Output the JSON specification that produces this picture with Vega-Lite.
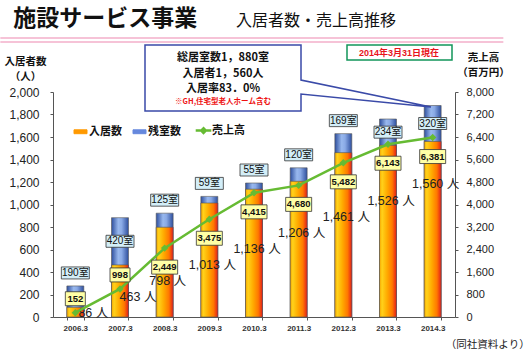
{
  "$schema": "https://vega.github.io/schema/vega-lite/v6.json",
  "width": 402,
  "height": 225,
  "autosize": {"type": "none"},
  "padding": {"left": 53, "top": 92, "right": 75, "bottom": 34},
  "background": "#ffffff",
  "config": {
    "view": {"stroke": null},
    "font": "Liberation Sans, Noto Sans CJK JP",
    "axis": {"grid": false},
    "axisLeft": {"labelFontSize": 12, "labelColor": "#222", "tickSize": 3, "labelPadding": 11, "domainColor": "#555", "tickColor": "#555",
      "titleAngle": 0, "titleX": -28, "titleY": -36, "titleAlign": "center", "titleBaseline": "top", "titleFontSize": 10.5, "titleFontWeight": "bold", "titleColor": "#111", "titleFont": "Noto Sans CJK JP", "titleLineHeight": 15},
    "axisRight": {"labelFontSize": 11, "labelColor": "#222", "tickSize": 3, "labelPadding": 8, "domainColor": "#555", "tickColor": "#555",
      "titleAngle": 0, "titleX": 28, "titleY": -40, "titleAlign": "center", "titleBaseline": "top", "titleFontSize": 10.5, "titleFontWeight": "bold", "titleColor": "#111", "titleFont": "Noto Sans CJK JP", "titleLineHeight": 15}
  },
  "data": {"values": [
    {"year": "2006.3", "occ": 86, "rem": 190, "sales": 152},
    {"year": "2007.3", "occ": 463, "rem": 420, "sales": 998},
    {"year": "2008.3", "occ": 798, "rem": 125, "sales": 2449},
    {"year": "2009.3", "occ": 1013, "rem": 59, "sales": 3475},
    {"year": "2010.3", "occ": 1136, "rem": 55, "sales": 4415},
    {"year": "2011.3", "occ": 1206, "rem": 120, "sales": 4680},
    {"year": "2012.3", "occ": 1461, "rem": 169, "sales": 5482},
    {"year": "2013.3", "occ": 1526, "rem": 234, "sales": 6143},
    {"year": "2014.3", "occ": 1560, "rem": 320, "sales": 6381}
  ]},
  "transform": [
    {"calculate": "datum.occ + datum.rem", "as": "total"},
    {"calculate": "datum.occ + datum.rem / 2", "as": "mid"},
    {"calculate": "34 + 143 * (toNumber(slice(datum.year, 0, 4)) - 2006)", "as": "ly"},
    {"calculate": "datum.rem + '室'", "as": "roomLabel"},
    {"calculate": "format(datum.occ, ',') + ' 人'", "as": "occLabel"},
    {"calculate": "format(datum.sales, ',')", "as": "salesLabel"}
  ],
  "encoding": {
    "x": {
      "field": "year", "type": "ordinal",
      "scale": {"paddingInner": 0.62, "paddingOuter": 0.31},
      "axis": {"title": null, "labelFontSize": 8, "labelFontWeight": "bold", "labelColor": "#333", "labelAngle": 0, "tickBand": "extent", "tickSize": 3, "labelPadding": 4, "domainColor": "#555", "tickColor": "#555"}
    }
  },
  "layer": [
    {
      "layer": [
        {
          "mark": {"type": "bar", "stroke": "#555", "strokeWidth": 0.6,
            "color": {"gradient": "linear", "x1": 0, "x2": 1, "y1": 0, "y2": 0, "stops": [
              {"offset": 0, "color": "#2e4f9e"}, {"offset": 0.4, "color": "#98b8ee"}, {"offset": 0.6, "color": "#8aaae6"}, {"offset": 1, "color": "#2e4f9e"}]}},
          "encoding": {"y": {"field": "total", "type": "quantitative", "scale": {"domain": [0, 2000], "nice": false},
            "axis": {"orient": "left", "values": [0, 200, 400, 600, 800, 1000, 1200, 1400, 1600, 1800, 2000], "format": ",d", "title": ["入居者数", "（人）"]}}}
        },
        {
          "mark": {"type": "bar", "stroke": "#555", "strokeWidth": 0.6,
            "color": {"gradient": "linear", "x1": 0, "x2": 1, "y1": 0, "y2": 0, "stops": [
              {"offset": 0, "color": "#f5a400"}, {"offset": 0.15, "color": "#ffd21a"}, {"offset": 0.45, "color": "#ffaa00"}, {"offset": 0.75, "color": "#ff7800"}, {"offset": 1, "color": "#e21e1c"}]}},
          "encoding": {"y": {"field": "occ", "type": "quantitative", "axis": {"orient": "left", "values": [0, 200, 400, 600, 800, 1000, 1200, 1400, 1600, 1800, 2000], "format": ",d", "title": ["入居者数", "（人）"]}}}
        },
        {
          "transform": [{"filter": "indexof(['2007.3','2013.3','2014.3'], datum.year) < 0"}],
          "mark": {"type": "point", "shape": "M-14,-19H14V-7H-14Z", "size": 4, "filled": true, "fill": "#d3eef8", "stroke": "#333", "strokeWidth": 0.8, "opacity": 1},
          "encoding": {"y": {"field": "total", "type": "quantitative", "axis": {"orient": "left", "values": [0, 200, 400, 600, 800, 1000, 1200, 1400, 1600, 1800, 2000], "format": ",d", "title": ["入居者数", "（人）"]}}}
        },
        {
          "transform": [{"filter": "indexof(['2007.3','2013.3','2014.3'], datum.year) < 0"}],
          "mark": {"type": "text", "dy": -13, "fontSize": 10, "color": "#111", "baseline": "middle"},
          "encoding": {"y": {"field": "total", "type": "quantitative", "axis": {"orient": "left", "values": [0, 200, 400, 600, 800, 1000, 1200, 1400, 1600, 1800, 2000], "format": ",d", "title": ["入居者数", "（人）"]}}, "text": {"field": "roomLabel"}}
        },
        {
          "transform": [{"filter": "indexof(['2007.3','2013.3','2014.3'], datum.year) >= 0"}],
          "mark": {"type": "point", "shape": "M-14,-6H14V6H-14Z", "size": 4, "filled": true, "fill": "#d3eef8", "stroke": "#333", "strokeWidth": 0.8, "opacity": 1},
          "encoding": {"y": {"field": "mid", "type": "quantitative", "axis": {"orient": "left", "values": [0, 200, 400, 600, 800, 1000, 1200, 1400, 1600, 1800, 2000], "format": ",d", "title": ["入居者数", "（人）"]}}}
        },
        {
          "transform": [{"filter": "indexof(['2007.3','2013.3','2014.3'], datum.year) >= 0"}],
          "mark": {"type": "text", "fontSize": 10, "color": "#111", "baseline": "middle"},
          "encoding": {"y": {"field": "mid", "type": "quantitative", "axis": {"orient": "left", "values": [0, 200, 400, 600, 800, 1000, 1200, 1400, 1600, 1800, 2000], "format": ",d", "title": ["入居者数", "（人）"]}}, "text": {"field": "roomLabel"}}
        },
        {
          "transform": [{"filter": "datum.occ < 500"}],
          "mark": {"type": "text", "fontSize": 12.5, "color": "#222", "dx": 18, "baseline": "middle"},
          "encoding": {"y": {"field": "ly", "type": "quantitative", "axis": {"orient": "left", "values": [0, 200, 400, 600, 800, 1000, 1200, 1400, 1600, 1800, 2000], "format": ",d", "title": ["入居者数", "（人）"]}}, "text": {"field": "occLabel"}}
        },
        {
          "transform": [{"filter": "datum.occ >= 500"}],
          "mark": {"type": "text", "fontSize": 12.5, "color": "#222", "dx": 3, "baseline": "middle"},
          "encoding": {"y": {"field": "ly", "type": "quantitative", "axis": {"orient": "left", "values": [0, 200, 400, 600, 800, 1000, 1200, 1400, 1600, 1800, 2000], "format": ",d", "title": ["入居者数", "（人）"]}}, "text": {"field": "occLabel"}}
        },
        {
          "data": {"values": [{}]},
          "mark": {"type": "text", "text": "施設サービス事業", "font": "Noto Sans CJK JP", "fontSize": 23, "fontWeight": "bold", "align": "left", "baseline": "middle", "dx": -62, "color": "#111"},
          "encoding": {"x": {"datum": "2006.3", "type": "ordinal"}, "y": {"datum": 2653, "type": "quantitative", "axis": {"orient": "left", "values": [0, 200, 400, 600, 800, 1000, 1200, 1400, 1600, 1800, 2000], "format": ",d", "title": ["入居者数", "（人）"]}}}
        },
        {
          "data": {"values": [{}]},
          "mark": {"type": "text", "text": "入居者数・売上高推移", "font": "Noto Sans CJK JP", "fontSize": 16, "align": "left", "baseline": "middle", "dx": -18, "color": "#111"},
          "encoding": {"x": {"datum": "2010.3", "type": "ordinal"}, "y": {"datum": 2635, "type": "quantitative", "axis": {"orient": "left", "values": [0, 200, 400, 600, 800, 1000, 1200, 1400, 1600, 1800, 2000], "format": ",d", "title": ["入居者数", "（人）"]}}}
        },
        {
          "data": {"values": [{}]},
          "mark": {"type": "point", "shape": "M-75,-2H428M-75,2H428", "size": 4, "filled": false, "stroke": "#f6c3d7", "strokeWidth": 2, "opacity": 1},
          "encoding": {"x": {"datum": "2006.3", "type": "ordinal"}, "y": {"datum": 2462, "type": "quantitative", "axis": {"orient": "left", "values": [0, 200, 400, 600, 800, 1000, 1200, 1400, 1600, 1800, 2000], "format": ",d", "title": ["入居者数", "（人）"]}}}
        },
        {
          "data": {"values": [{}]},
          "mark": {"type": "point", "shape": "M-109,-33H47V2L177,29L47,16V33H-109Z", "size": 4, "filled": true, "fill": "#ffffff", "stroke": "#3a4aa8", "strokeWidth": 1.5, "opacity": 1},
          "encoding": {"x": {"datum": "2010.3", "type": "ordinal"}, "y": {"datum": 2124, "type": "quantitative", "axis": {"orient": "left", "values": [0, 200, 400, 600, 800, 1000, 1200, 1400, 1600, 1800, 2000], "format": ",d", "title": ["入居者数", "（人）"]}}}
        },
        {
          "data": {"values": [{}]},
          "mark": {"type": "text", "text": "総居室数1，880室", "font": "Noto Sans CJK JP", "fontSize": 11, "fontWeight": "bold", "align": "center", "baseline": "middle", "dx": -31, "color": "#111"},
          "encoding": {"x": {"datum": "2010.3", "type": "ordinal"}, "y": {"datum": 2302, "type": "quantitative", "axis": {"orient": "left", "values": [0, 200, 400, 600, 800, 1000, 1200, 1400, 1600, 1800, 2000], "format": ",d", "title": ["入居者数", "（人）"]}}}
        },
        {
          "data": {"values": [{}]},
          "mark": {"type": "text", "text": "入居者1，560人", "font": "Noto Sans CJK JP", "fontSize": 11, "fontWeight": "bold", "align": "center", "baseline": "middle", "dx": -31, "color": "#111"},
          "encoding": {"x": {"datum": "2010.3", "type": "ordinal"}, "y": {"datum": 2164, "type": "quantitative", "axis": {"orient": "left", "values": [0, 200, 400, 600, 800, 1000, 1200, 1400, 1600, 1800, 2000], "format": ",d", "title": ["入居者数", "（人）"]}}}
        },
        {
          "data": {"values": [{}]},
          "mark": {"type": "text", "text": "入居率83．0%", "font": "Noto Sans CJK JP", "fontSize": 11, "fontWeight": "bold", "align": "center", "baseline": "middle", "dx": -31, "color": "#111"},
          "encoding": {"x": {"datum": "2010.3", "type": "ordinal"}, "y": {"datum": 2027, "type": "quantitative", "axis": {"orient": "left", "values": [0, 200, 400, 600, 800, 1000, 1200, 1400, 1600, 1800, 2000], "format": ",d", "title": ["入居者数", "（人）"]}}}
        },
        {
          "data": {"values": [{}]},
          "mark": {"type": "text", "text": "※GH,住宅型老人ホーム含む", "font": "Noto Sans CJK JP", "fontSize": 7.5, "fontWeight": "bold", "align": "center", "baseline": "middle", "dx": -31, "color": "#ee1111"},
          "encoding": {"x": {"datum": "2010.3", "type": "ordinal"}, "y": {"datum": 1911, "type": "quantitative", "axis": {"orient": "left", "values": [0, 200, 400, 600, 800, 1000, 1200, 1400, 1600, 1800, 2000], "format": ",d", "title": ["入居者数", "（人）"]}}}
        },
        {
          "data": {"values": [{}]},
          "mark": {"type": "point", "shape": "M-41,-7.5H64V7.5H-41Z", "size": 4, "filled": true, "fill": "#ffffff", "stroke": "#12955a", "strokeWidth": 1.5, "opacity": 1},
          "encoding": {"x": {"datum": "2013.3", "type": "ordinal"}, "y": {"datum": 2351, "type": "quantitative", "axis": {"orient": "left", "values": [0, 200, 400, 600, 800, 1000, 1200, 1400, 1600, 1800, 2000], "format": ",d", "title": ["入居者数", "（人）"]}}}
        },
        {
          "data": {"values": [{}]},
          "mark": {"type": "text", "text": "2014年3月31日現在", "fontSize": 9, "fontWeight": "bold", "align": "center", "baseline": "middle", "dx": 11, "color": "#e8141c"},
          "encoding": {"x": {"datum": "2013.3", "type": "ordinal"}, "y": {"datum": 2351, "type": "quantitative", "axis": {"orient": "left", "values": [0, 200, 400, 600, 800, 1000, 1200, 1400, 1600, 1800, 2000], "format": ",d", "title": ["入居者数", "（人）"]}}}
        },
        {
          "data": {"values": [{}]},
          "mark": {"type": "text", "text": "（同社資料より）", "font": "Noto Sans CJK JP", "fontSize": 10.5, "align": "right", "baseline": "middle", "dx": 97, "color": "#222"},
          "encoding": {"x": {"datum": "2014.3", "type": "ordinal"}, "y": {"datum": -249, "type": "quantitative", "axis": {"orient": "left", "values": [0, 200, 400, 600, 800, 1000, 1200, 1400, 1600, 1800, 2000], "format": ",d", "title": ["入居者数", "（人）"]}}}
        }
      ]
    },
    {
      "layer": [
        {
          "mark": {"type": "line", "strokeWidth": 2.5, "point": {"shape": "diamond", "size": 55, "filled": true, "opacity": 1}},
          "encoding": {
            "y": {"field": "sales", "type": "quantitative", "scale": {"domain": [0, 8000], "nice": false},
              "axis": {"orient": "right", "values": [0, 800, 1600, 2400, 3200, 4000, 4800, 5600, 6400, 7200, 8000], "format": ",d", "title": ["売上高", "（百万円）"]}},
            "color": {"datum": "売上高", "type": "nominal",
              "scale": {"domain": ["入居数", "残室数", "売上高"], "range": ["#ff9900", "#6688dd", "#66bb33"]},
              "legend": {"orient": "none", "legendX": 22, "legendY": 33, "direction": "horizontal", "title": null,
                "labelFontSize": 11, "labelFont": "Noto Sans CJK JP", "labelFontWeight": "bold", "labelColor": "#111",
                "symbolSize": 169, "columnPadding": 9, "labelOffset": 3,
                "encode": {"symbols": {"update": {
                  "shape": {"signal": "datum.value === '売上高' ? 'M-1.2,0H1.2M-0.35,0L0,-0.35L0.35,0L0,0.35Z' : 'M-1,-0.3H1V0.3H-1Z'"},
                  "fill": {"signal": "datum.value === '売上高' ? '#66bb33' : (datum.value === '入居数' ? '#ff9900' : '#6688dd')"},
                  "stroke": {"signal": "datum.value === '売上高' ? '#66bb33' : '#555'"},
                  "strokeWidth": {"signal": "datum.value === '売上高' ? 2.5 : 1"},
                  "opacity": {"value": 1},
                  "fillOpacity": {"value": 1}
                }}}}}
          }
        },
        {
          "transform": [{"filter": "datum.sales < 1000"}],
          "mark": {"type": "point", "shape": "M-10,-21H10V-7H-10Z", "size": 4, "filled": true, "fill": "#ffffa6", "stroke": "#333", "strokeWidth": 0.8, "opacity": 1},
          "encoding": {"y": {"field": "sales", "type": "quantitative", "axis": {"orient": "right", "values": [0, 800, 1600, 2400, 3200, 4000, 4800, 5600, 6400, 7200, 8000], "format": ",d", "title": ["売上高", "（百万円）"]}}}
        },
        {
          "transform": [{"filter": "datum.sales < 1000"}],
          "mark": {"type": "text", "dy": -14, "fontSize": 9.5, "fontWeight": "bold", "color": "#111", "baseline": "middle"},
          "encoding": {"y": {"field": "sales", "type": "quantitative", "axis": {"orient": "right", "values": [0, 800, 1600, 2400, 3200, 4000, 4800, 5600, 6400, 7200, 8000], "format": ",d", "title": ["売上高", "（百万円）"]}}, "text": {"field": "salesLabel"}}
        },
        {
          "transform": [{"filter": "datum.sales >= 1000"}],
          "mark": {"type": "point", "shape": "M-13,12H13V26H-13Z", "size": 4, "filled": true, "fill": "#ffffa6", "stroke": "#333", "strokeWidth": 0.8, "opacity": 1},
          "encoding": {"y": {"field": "sales", "type": "quantitative", "axis": {"orient": "right", "values": [0, 800, 1600, 2400, 3200, 4000, 4800, 5600, 6400, 7200, 8000], "format": ",d", "title": ["売上高", "（百万円）"]}}}
        },
        {
          "transform": [{"filter": "datum.sales >= 1000"}],
          "mark": {"type": "text", "dy": 19, "fontSize": 9.5, "fontWeight": "bold", "color": "#111", "baseline": "middle"},
          "encoding": {"y": {"field": "sales", "type": "quantitative", "axis": {"orient": "right", "values": [0, 800, 1600, 2400, 3200, 4000, 4800, 5600, 6400, 7200, 8000], "format": ",d", "title": ["売上高", "（百万円）"]}}, "text": {"field": "salesLabel"}}
        }
      ]
    }
  ],
  "resolve": {"scale": {"y": "independent"}}
}
